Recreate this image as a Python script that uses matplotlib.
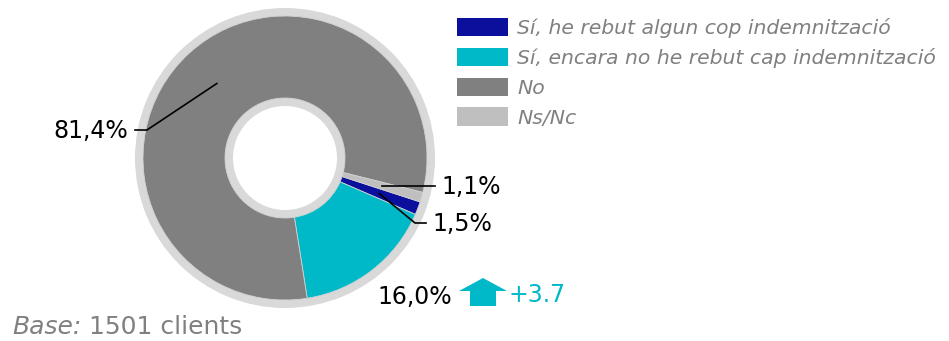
import numpy as np
import matplotlib.pyplot as plt
from matplotlib.patches import FancyArrow

# Survey answers (percent of clients)
categories = ["Sí, he rebut algun cop indemnització",
              "Sí, encara no he rebut cap indemnització",
              "No",
              "Ns/Nc"]
shares = [1.5, 16.0, 81.4, 1.1]
share_labels = ["1,5%", "16,0%", "81,4%", "1,1%"]
colors = ["#0a0f9c", "#00b9c8", "#808080", "#bfbfbf"]
change_text = "+3.7"
base_text = "1501 clients"

W, H = 949, 341
fig = plt.figure(figsize=(W / 100, H / 100), dpi=100)
ax = fig.add_axes([0, 0, 1, 1])

cx, cy = 285, 183
r_out, r_in = 142, 60
ring = "#d9d9d9"

# light grey frame around and inside the donut
ax.pie([1], radius=r_out + 8, center=(cx, cy), colors=[ring],
       wedgeprops=dict(width=8, linewidth=0), frame=True)
ax.pie([1], radius=r_in, center=(cx, cy), colors=[ring],
       wedgeprops=dict(width=8, linewidth=0), frame=True)

wedges, _ = ax.pie(shares, radius=r_out, center=(cx, cy), colors=colors,
                   startangle=-18, counterclock=False, frame=True,
                   wedgeprops=dict(width=r_out - r_in, edgecolor="#d0d0d0",
                                   linewidth=0.6))
ax.set_xlim(0, W)
ax.set_ylim(0, H)
ax.set_aspect("equal")
ax.axis("off")


def mid_point(w, r=101):
    a = np.deg2rad((w.theta1 + w.theta2) / 2)
    return cx + r * np.cos(a), cy + r * np.sin(a)


lab_font = dict(fontsize=17, color="black", family="DejaVu Sans")

# 81,4% - leader to the left
x0, y0 = mid_point(wedges[2])
ax.plot([x0, 147, 135], [y0, H - 130, H - 130], color="black", lw=1.2)
ax.text(128, H - 131, share_labels[2], ha="right", va="center", **lab_font)

# 1,1% - straight leader
x0, y0 = mid_point(wedges[3])
ax.plot([x0, 435], [y0, y0], color="black", lw=1.2)
ax.text(441, y0 - 1, share_labels[3], ha="left", va="center", **lab_font)

# 1,5% - bent leader
x0, y0 = mid_point(wedges[0])
ax.plot([x0, 415, 426], [y0, H - 223, H - 223], color="black", lw=1.2)
ax.text(432, H - 224, share_labels[0], ha="left", va="center", **lab_font)

# 16,0% with change indicator
ax.text(377, H - 297, share_labels[1], ha="left", va="center", **lab_font)
ax.add_patch(FancyArrow(483, H - 306, 0, 28, width=26, head_width=48,
                        head_length=13, length_includes_head=True,
                        color=colors[1], linewidth=0))
ax.text(509, H - 295, change_text, ha="left", va="center", fontsize=17,
        color=colors[1], family="DejaVu Sans")

leg = ax.legend(wedges, categories, loc="upper left",
                bbox_to_anchor=(447 / W, 1 - 8 / H), frameon=False,
                prop=dict(family="DejaVu Sans", style="italic", size=14.7),
                labelcolor="#808080", handlelength=2.5, handleheight=1.0,
                handletextpad=0.45, labelspacing=0.47, borderpad=0)
for h in leg.legend_handles:
    h.set_edgecolor("none")

base_lab = ax.text(12, H - 327, "Base:", ha="left", va="center", fontsize=18,
                   style="italic", color="#808080", family="DejaVu Sans")
fig.canvas.draw()
bb = base_lab.get_window_extent()
ax.text(bb.x1 + 8, H - 327, base_text, ha="left", va="center", fontsize=18,
        color="#808080", family="DejaVu Sans")

fig.savefig("out.png", dpi=100)
